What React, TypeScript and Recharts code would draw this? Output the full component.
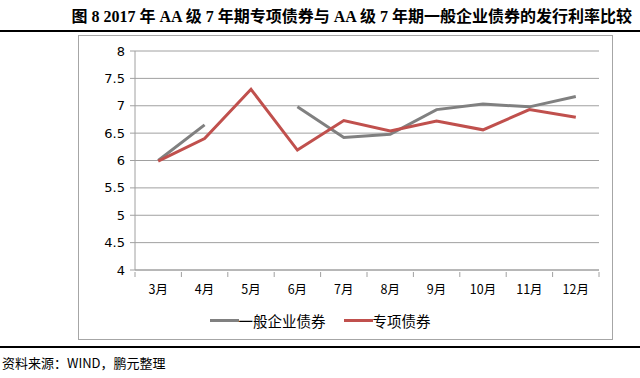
import React from 'react';
import { LineChart, Line, XAxis, YAxis, CartesianGrid, Legend } from 'recharts';

const months = ['3月', '4月', '5月', '6月', '7月', '8月', '9月', '10月', '11月', '12月'];
const generalBonds: (number | null)[] = [6.0, 6.65, null, 6.98, 6.42, 6.48, 6.93, 7.03, 6.98, 7.17];
const specialBonds: (number | null)[] = [5.99, 6.4, 7.3, 6.19, 6.73, 6.54, 6.72, 6.56, 6.93, 6.79];
const yTicks = [4, 4.5, 5, 5.5, 6, 6.5, 7, 7.5, 8];

const data = months.map((m, i) => ({ month: m, general: generalBonds[i], special: specialBonds[i] }));

const GRAY = '#808080';
const RED = '#c0504d';
const AXIS = '#a0a0a0';
const CJK = '"Noto Sans CJK SC", sans-serif';

const CHART_W = 640;
const Y_AXIS_W = 135;
const RIGHT_M = 41;
const HALF_BAND = (CHART_W - Y_AXIS_W - RIGHT_M) / months.length / 2;

const MonthTick = (props: any) => {
  const { x, y, payload, index } = props;
  const isLast = index === months.length - 1;
  return (
    <g>
      <line x1={x - HALF_BAND} x2={x - HALF_BAND} y1={y} y2={y + 5} stroke={AXIS} />
      {isLast && <line x1={x + HALF_BAND} x2={x + HALF_BAND} y1={y} y2={y + 5} stroke={AXIS} />}
      <text x={x} y={y + 22} textAnchor="middle" fill="#000" fontSize={12.5} fontFamily={CJK}>
        {payload.value}
      </text>
    </g>
  );
};

const LegendContent = () => (
  <div style={{ display: 'flex', justifyContent: 'center', alignItems: 'center', fontFamily: CJK, fontSize: 14.5, color: '#000', height: 20 }}>
    <span style={{ display: 'inline-block', width: 29, height: 3, background: GRAY }} />
    <span style={{ marginRight: 18 }}>一般企业债券</span>
    <span style={{ display: 'inline-block', width: 29, height: 3, background: RED }} />
    <span>专项债券</span>
  </div>
);

export default function App() {
  return (
    <div style={{ position: 'absolute', left: 0, top: 0, width: 640, height: 378, background: '#fff', overflow: 'hidden' }}>
      <div style={{ position: 'absolute', right: 8, top: 3, fontFamily: '"Liberation Serif", "Noto Sans CJK SC", serif', fontWeight: 'bold', fontSize: 16, whiteSpace: 'nowrap', color: '#000' }}>
        图 8 2017 年 AA 级 7 年期专项债券与 AA 级 7 年期一般企业债券的发行利率比较
      </div>
      <div style={{ position: 'absolute', left: 0, top: 30, width: 640, height: 2, background: '#000' }} />
      <div style={{ position: 'absolute', left: 78, top: 35, width: 535, height: 305, border: '1px solid #a6a6a6', boxSizing: 'border-box' }} />
      <div style={{ position: 'absolute', left: 0, top: 0 }}>
        <LineChart width={CHART_W} height={378} data={data} margin={{ top: 51, right: RIGHT_M, bottom: 58, left: 0 }}>
          <CartesianGrid horizontal={true} vertical={false} stroke={AXIS} strokeWidth={1} />
          <XAxis
            dataKey="month"
            scale="band"
            height={30}
            axisLine={{ stroke: AXIS }}
            tickLine={false}
            tickSize={0}
            interval={0}
            tick={<MonthTick />}
          />
          <YAxis
            width={Y_AXIS_W}
            domain={[4, 8]}
            ticks={yTicks}
            axisLine={{ stroke: AXIS }}
            tickLine={{ stroke: AXIS }}
            tickSize={5}
            tickMargin={5}
            tick={{ fill: '#000', fontSize: 13, fontFamily: '"DejaVu Sans", sans-serif' }}
          />
          <Legend verticalAlign="bottom" content={<LegendContent />} wrapperStyle={{ position: 'absolute', left: 0, top: 310, width: 640 }} />
          <Line type="linear" dataKey="general" stroke={GRAY} strokeWidth={3} dot={false} isAnimationActive={false} connectNulls={false} />
          <Line type="linear" dataKey="special" stroke={RED} strokeWidth={3} dot={false} isAnimationActive={false} />
        </LineChart>
      </div>
      <div style={{ position: 'absolute', left: 0, top: 346, width: 640, height: 2, background: '#000' }} />
      <div style={{ position: 'absolute', left: 2, top: 353, fontFamily: CJK, fontSize: 13, color: '#000', whiteSpace: 'nowrap' }}>
        资料来源：WIND，鹏元整理
      </div>
    </div>
  );
}
